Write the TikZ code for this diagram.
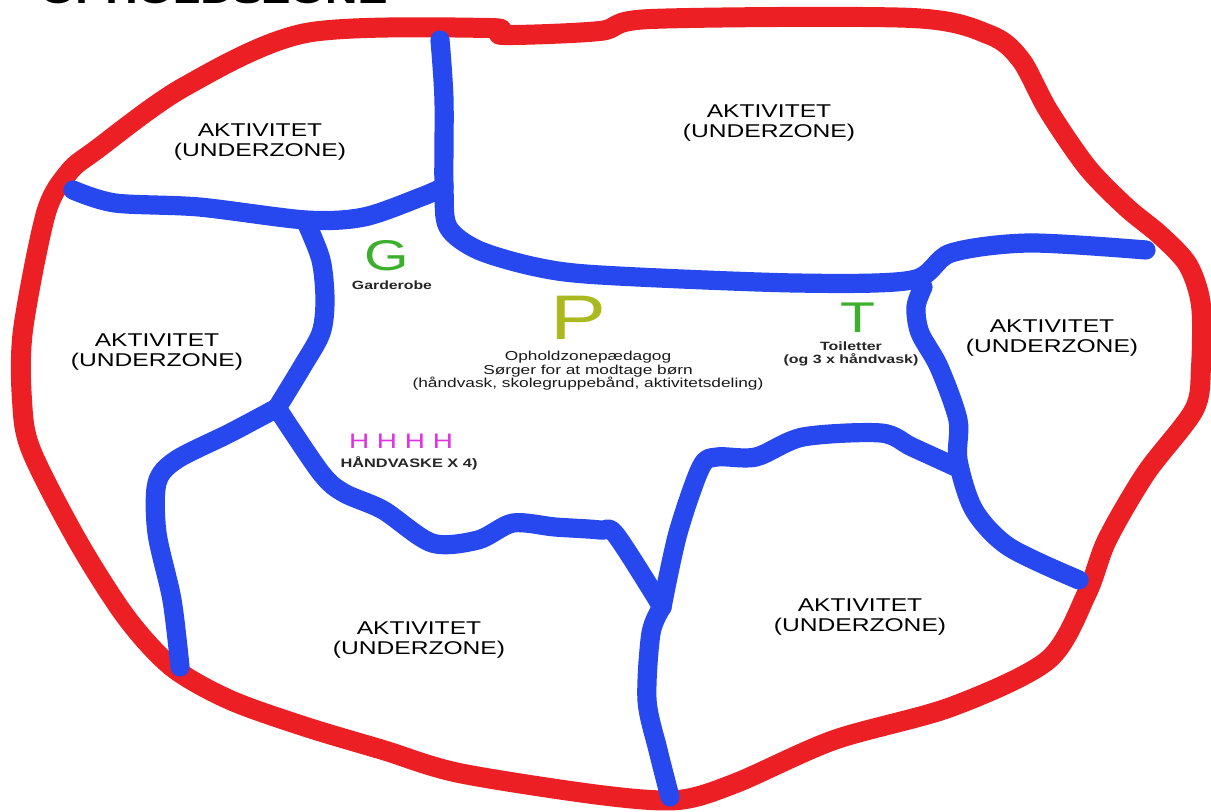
\documentclass[tikz,border=0pt]{standalone}
\usepackage{fontspec}
\newfontfamily\lf[FakeStretch=1.33]{Liberation Sans}
\definecolor{zred}{RGB}{236,32,36}
\definecolor{zblue}{RGB}{38,72,238}
\definecolor{zgreen}{RGB}{60,175,45}
\definecolor{zolive}{RGB}{170,185,30}
\definecolor{zmag}{RGB}{225,50,225}
\tikzset{
  redline/.style={draw=zred, line width=10pt, line cap=round, line join=round},
  blueline/.style={draw=zblue, line width=9.6pt, line cap=round, line join=round},
  zone/.style={align=center, inner sep=0pt, font=\lf\fontsize{9.25}{10}\selectfont, text=black},
  small/.style={align=center, inner sep=0pt, font=\lf\bfseries\fontsize{6}{6.5}\selectfont, text=black!85},
}
\begin{document}
\begin{tikzpicture}[x=0.5pt, y=-0.5pt]
\useasboundingbox[fill=white] (0,0) rectangle (1211,812);
% title (cut off at top)
\node[anchor=base west, inner sep=0pt, font=\lf\bfseries\fontsize{16.9}{18}\selectfont] (title) at (40,3.5) {OPHOLDSZONE};
% red outer boundary
\draw[redline] plot[smooth cycle, tension=0.5] coordinates {
 (23,330) (46,213) (69,172) (96,150) (184,87) (306,33) (490,28) (503,35) (600,31) (651,19)
 (912,18) (990,35) (1021,60) (1048,110) (1087,167) (1126,207) (1160,235) (1188,265)
 (1201,305) (1201,367) (1194,410) (1146,473) (1107,540) (1087,593) (1048,660) (951,707)
 (834,740) (736,783) (678,800) (600,795) (459,773) (383,750) (306,727) (230,700) (172,667)
 (126,617) (77,540) (31,450) (22,400)};
% blue inner lines
\draw[blueline] plot[smooth, tension=0.5] coordinates {(73,190) (115,203) (199,207) (306,220) (364,217) (421,197) (444,187)};
\draw[blueline] plot[smooth, tension=0.5] coordinates {(440,40) (444,100) (444,187) (448,227) (478,250) (536,267) (600,275) (795,283) (912,280) (951,253) (1029,243) (1146,250)};
\draw[blueline] plot[smooth, tension=0.5] coordinates {(306,222) (321,260) (325,300) (321,333) (302,367) (277,408)};
\draw[blueline] plot[smooth, tension=0.5] coordinates {(277,408) (230,433) (176,460) (157,483) (157,533) (172,600) (180,667)};
\draw[blueline] plot[smooth, tension=0.5] coordinates {(277,408) (321,473) (344,493) (383,510) (432,543) (478,540) (513,523) (555,527) (600,530) (616,535) (662,607)};
\draw[blueline] plot[smooth, tension=0.5] coordinates {(923,287) (916,307) (920,333) (939,367) (958,420) (958,460) (974,510) (1009,547) (1079,580)};
\draw[blueline] plot[smooth, tension=0.5] coordinates {(958,468) (912,447) (881,433) (803,437) (756,457) (717,457) (701,467) (678,533) (662,607)};
\draw[blueline] plot[smooth, tension=0.5] coordinates {(662,607) (651,633) (647,700) (658,750) (670,797)};
% zone labels
\node[zone] (z1) at (260,142) {AKTIVITET\\(UNDERZONE)};
\node[zone] (z2) at (769,123) {AKTIVITET\\(UNDERZONE)};
\node[zone] (z3) at (157,352) {AKTIVITET\\(UNDERZONE)};
\node[zone] (z4) at (1052,338) {AKTIVITET\\(UNDERZONE)};
\node[zone] (z5) at (419,640) {AKTIVITET\\(UNDERZONE)};
\node[zone] (z6) at (860,617) {AKTIVITET\\(UNDERZONE)};
% central items
\node[inner sep=0pt, text=zgreen, font=\lf\fontsize{21.5}{22}\selectfont] (g) at (387,256) {G};
\node[small, font=\lf\bfseries\fontsize{5.95}{6.5}\selectfont] (gt) at (392,285) {Garderobe};
\node[inner sep=0pt, text=zolive, font=\lf\fontsize{31.5}{32}\selectfont] (p) at (578,318) {P};
\node[align=center, inner sep=0pt, font=\lf\fontsize{6.5}{6.75}\selectfont, text=black!90] (pt) at (588,371) {Opholdzonepædagog\\Sørger for at modtage børn\\(håndvask, skolegruppebånd, aktivitetsdeling)};
\node[inner sep=0pt, text=zgreen, font=\lf\fontsize{21.5}{22}\selectfont] (t) at (858,318) {T};
\node[small] (tt) at (851,353.5) {Toiletter\\(og 3 x håndvask)};
\node[inner sep=0pt, text=zmag, font=\lf\fontsize{10.5}{11}\selectfont] (h) at (401,441) {H H H H};
\node[small, font=\lf\bfseries\fontsize{6.15}{6.5}\selectfont] (ht) at (409,463) {HÅNDVASKE X 4)};
\end{tikzpicture}
\end{document}
